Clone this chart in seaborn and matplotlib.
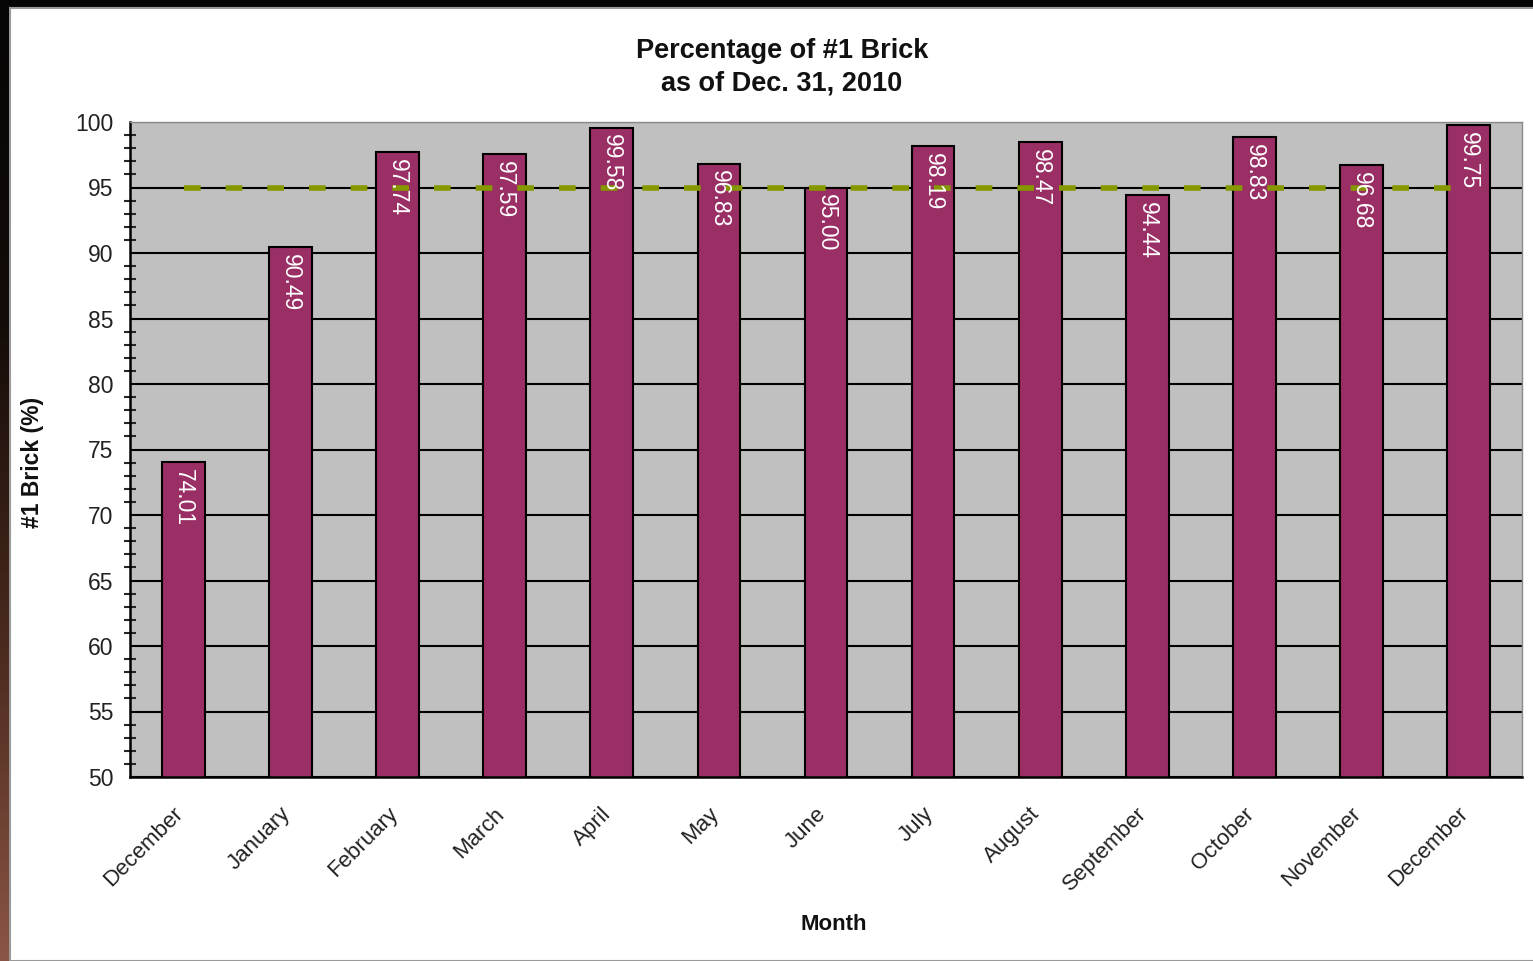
import matplotlib
matplotlib.use('Agg')
import numpy as np
import pandas as pd
import seaborn as sns
from matplotlib import pyplot as plt
from matplotlib.patches import Rectangle

# Données du graphique
mois = ['December', 'January', 'February', 'March', 'April', 'May', 'June',
        'July', 'August', 'September', 'October', 'November', 'December']
pct_brique = [74.01, 90.49, 97.74, 97.59, 99.58, 96.83, 95.00,
              98.19, 98.47, 94.44, 98.83, 96.68, 99.75]
objectif = [95, 95, 95, 95, 95, 95, 95, 95, 95, 95, 95, 95, 95]

df = pd.DataFrame({'rang': range(len(mois)), 'mois': mois,
                   'pct': pct_brique, 'objectif': objectif})

sns.set_style('white')
plt.rcParams['font.family'] = ['Liberation Sans', 'DejaVu Sans']

fig = plt.figure(figsize=(15.33, 9.61), dpi=100)
fig.patch.set_facecolor('#050505')

# Fond blanc de la capture + bande gauche dégradée
fig.patches.append(Rectangle((10 / 1533, 0), 1, 1 - 8 / 961, transform=fig.transFigure,
                             facecolor='white', edgecolor='#9a9a9a', linewidth=1.5, zorder=-5))
ax_bande = fig.add_axes([0, 0, 9 / 1533, 1 - 8 / 961])
degrade = np.linspace(0, 1, 200).reshape(-1, 1)
cmap_bande = matplotlib.colors.LinearSegmentedColormap.from_list(
    'bande', ['#050505', '#140c08', '#4a2a1e', '#8a5444'])
ax_bande.imshow(degrade, aspect='auto', cmap=cmap_bande, origin='upper')
ax_bande.set_axis_off()

ax = fig.add_axes([130 / 1533, 1 - 777 / 961, (1522 - 130) / 1533, (777 - 122) / 961])
ax.set_facecolor('#c0c0c0')

sns.barplot(data=df, x='rang', y='pct', color='#9a2f66', width=0.4,
            edgecolor='black', linewidth=1.5, saturation=1, ax=ax, zorder=2)
sns.lineplot(data=df, x='rang', y='objectif', color='#859800', linewidth=4,
             dashes=False, ax=ax, zorder=4)
ax.lines[-1].set_dashes((3, 4.5))

# Etiquettes des valeurs dans les barres
for i, v in enumerate(pct_brique):
    ax.annotate(f'{v:.2f}', (i, v), xytext=(0, -5), textcoords='offset points',
                rotation=270, ha='center', va='top', color='white', fontsize=16.5, zorder=5)

ax.set_ylim(50, 100)
ax.set_xlim(-0.5, len(mois) - 0.5)
ax.set_yticks(range(50, 101, 5))
ax.set_yticks(range(50, 101, 1), minor=True)
ax.grid(axis='y', which='major', color='black', linewidth=1.5, zorder=1)
ax.set_axisbelow(True)

# Graduations x aux limites des catégories, libellés un peu à gauche du centre
ax.set_xticks(np.arange(-0.5, len(mois), 1))
ax.set_xticklabels([])
ax.set_xticks(np.arange(len(mois)) - 0.1, minor=True)
ax.set_xticklabels(mois, minor=True, rotation=45, ha='right', va='top',
                   rotation_mode='anchor', fontsize=16, color='#222222')
ax.tick_params(axis='x', which='minor', length=0, pad=19)
ax.tick_params(axis='x', which='major', direction='inout', length=12, width=1.5)
ax.tick_params(axis='y', which='major', direction='inout', length=14, width=1.5,
               labelsize=16.5, labelcolor='#222222', pad=5)
ax.tick_params(axis='y', which='minor', direction='inout', length=8, width=1.5, left=True)

for cote in ['left', 'bottom']:
    ax.spines[cote].set_color('black')
    ax.spines[cote].set_linewidth(1.8)
for cote in ['top', 'right']:
    ax.spines[cote].set_color('#8a8a8a')
    ax.spines[cote].set_linewidth(1)

ax.set_xlabel('')
ax.set_ylabel('')
fig.text(782 / 1533, 1 - 67 / 961, 'Percentage of #1 Brick\nas of Dec. 31, 2010',
         ha='center', va='center', fontsize=19.5, fontweight='bold', linespacing=1.3,
         color='#111111')
fig.text(33 / 1533, 1 - 462 / 961, '#1 Brick (%)', rotation=90, ha='center', va='center',
         fontsize=16.5, fontweight='bold', color='#111111')
fig.text(834 / 1533, 1 - 925 / 961, 'Month', ha='center', va='center',
         fontsize=16, fontweight='bold', color='#111111')

fig.savefig('out.png', dpi=100, facecolor=fig.get_facecolor())
